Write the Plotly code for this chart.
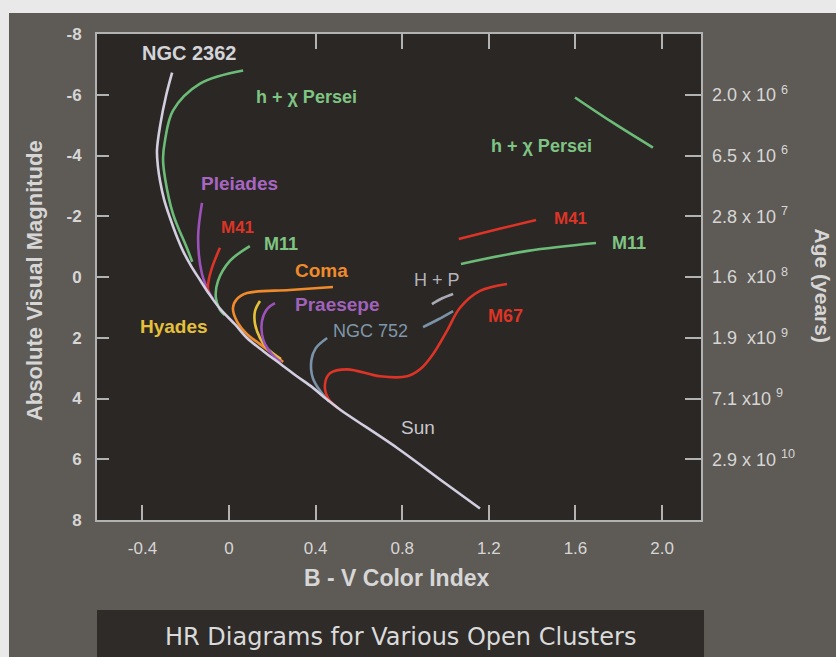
import plotly.graph_objects as go

# ---- cluster sequences (B-V colour index, absolute visual magnitude) ----
zams_bv = [-0.263, -0.290, -0.318, -0.333, -0.328, -0.319, -0.300, -0.273, -0.245, -0.213,
           -0.175, -0.134, -0.090, -0.040, 0.030, 0.083, 0.160, 0.235, 0.310, 0.388, 0.450,
           0.512, 0.775, 1.000, 1.159]
zams_mv = [-6.73, -6.00, -5.00, -4.16, -3.60, -3.17, -2.55, -1.95, -1.40, -0.86,
           -0.36, 0.10, 0.58, 1.06, 1.58, 2.01, 2.45, 2.85, 3.25, 3.65, 4.02,
           4.36, 5.62, 6.80, 7.62]

persei_ms_bv = [0.065, -0.134, -0.259, -0.296, -0.305, -0.296, -0.259, -0.195, -0.170]
persei_ms_mv = [-6.80, -6.37, -5.48, -4.49, -3.90, -3.27, -2.08, -0.96, -0.50]
persei_gi_bv = [1.598, 1.773, 1.958]
persei_gi_mv = [-5.91, -5.08, -4.26]

pleiades_bv = [-0.125, -0.143, -0.125, -0.088, -0.074]
pleiades_mv = [-2.44, -1.29, -0.10, 0.56, 0.72]

m41_ms_bv = [-0.042, -0.079, -0.097, -0.097]
m41_ms_mv = [-0.96, -0.30, 0.23, 0.50]
m41_gi_bv = [1.061, 1.240, 1.418]
m41_gi_mv = [-1.25, -1.57, -1.88]

m11_ms_bv = [0.096, 0.004, -0.051, -0.061, -0.042, -0.020]
m11_ms_mv = [-1.02, -0.53, 0.13, 0.69, 1.08, 1.25]
m11_gi_bv = [1.071, 1.380, 1.695]
m11_gi_mv = [-0.43, -0.86, -1.12]

coma_bv = [0.480, 0.280, 0.083, 0.036, 0.018, 0.036, 0.083, 0.143, 0.203, 0.250]
coma_mv = [0.33, 0.43, 0.53, 0.73, 1.02, 1.45, 1.88, 2.21, 2.54, 2.80]

hyades_bv = [0.143, 0.120, 0.120, 0.143, 0.175, 0.240]
hyades_mv = [0.79, 1.12, 1.55, 2.01, 2.34, 2.70]

praesepe_bv = [0.212, 0.175, 0.152, 0.152, 0.166, 0.198, 0.240]
praesepe_mv = [0.86, 1.06, 1.45, 1.88, 2.21, 2.54, 2.80]

ngc752_ms_bv = [0.453, 0.400, 0.380, 0.387, 0.429, 0.462]
ngc752_ms_mv = [2.01, 2.35, 2.75, 3.33, 3.83, 4.10]
ngc752_gi_bv = [0.896, 0.965, 1.035]
ngc752_gi_mv = [1.65, 1.40, 1.12]

hp_gi_bv = [0.937, 0.985, 1.035]
hp_gi_mv = [0.89, 0.70, 0.56]

m67_bv = [1.284, 1.159, 1.066, 1.006, 0.942, 0.882, 0.822, 0.697, 0.545, 0.466, 0.443, 0.457, 0.503]
m67_mv = [0.23, 0.46, 1.02, 1.78, 2.54, 3.04, 3.27, 3.27, 3.04, 3.17, 3.53, 3.99, 4.32]

# ---- axes ----
bv_ticks = [-0.4, 0.0, 0.4, 0.8, 1.2, 1.6, 2.0]
bv_labels = ["-0.4", "0", "0.4", "0.8", "1.2", "1.6", "2.0"]
top_ticks = [0.4, 0.8, 1.2, 1.6, 2.0]
mv_ticks = [-8, -6, -4, -2, 0, 2, 4, 6, 8]
mv_labels = ["<b>-8</b>", "<b>-6</b>", "<b>-4</b>", "<b>-2</b>", "<b>0</b>", "<b>2</b>",
             "<b>4</b>", "<b>6</b>", "<b>8</b>"]
age_ticks = [-6, -4, -2, 0, 2, 4, 6]
age_labels = ["2.0 x 10 <sup>6</sup>", "6.5 x 10 <sup>6</sup>", "2.8 x 10 <sup>7</sup>",
              "1.6  x10 <sup>8</sup>", "1.9  x10 <sup>9</sup>", "7.1 x10 <sup>9</sup>",
              "2.9 x 10 <sup>10</sup>"]

# ---- cluster names ----
label_text = ["NGC 2362", "h + \u03c7 Persei", "h + \u03c7 Persei", "Pleiades", "M41", "M11",
              "Coma", "Praesepe", "Hyades", "NGC 752", "H + P", "M41", "M11", "M67", "Sun"]
label_bv = [-0.181, 0.357, 1.445, 0.046, 0.037, 0.240, 0.429, 0.503, -0.254, 0.655, 0.960,
            1.575, 1.847, 1.279, 0.873]
label_mv = [-7.36, -5.91, -4.32, -3.07, -1.62, -1.09, -0.23, 0.89, 1.62, 1.78, 0.10,
            -1.91, -1.12, 1.29, 4.95]

WHITE = "#d2cee0"
GREEN = "#6cbc78"
RED = "#dc3426"
PURPLE = "#9d52bb"
ORANGE = "#f08b2c"
YELLOW = "#e6c03a"
STEEL = "#7a93a8"
GREY = "#aaaab4"

label_color = ["#d4d4d8", "#7fc483", "#7fc483", "#a866c2", RED, "#7fc483", ORANGE, "#a062bb",
               YELLOW, "#8097aa", "#b4b4bc", RED, "#7fc483", RED, "#c8c8cc"]
label_bold = [True, True, True, True, True, True, True, True, True, False, False, True, True,
              True, False]
label_size = [20, 18, 18, 19, 17, 18, 19, 19, 19, 18, 18, 17, 18, 18, 19]

FONT = "Liberation Sans, Arial, sans-serif"

fig = go.Figure()

curves = [
    (persei_ms_bv, persei_ms_mv, GREEN),
    (persei_gi_bv, persei_gi_mv, GREEN),
    (pleiades_bv, pleiades_mv, PURPLE),
    (m41_ms_bv, m41_ms_mv, RED),
    (m41_gi_bv, m41_gi_mv, RED),
    (m11_ms_bv, m11_ms_mv, GREEN),
    (m11_gi_bv, m11_gi_mv, GREEN),
    (coma_bv, coma_mv, ORANGE),
    (hyades_bv, hyades_mv, YELLOW),
    (praesepe_bv, praesepe_mv, PURPLE),
    (ngc752_ms_bv, ngc752_ms_mv, STEEL),
    (ngc752_gi_bv, ngc752_gi_mv, STEEL),
    (hp_gi_bv, hp_gi_mv, GREY),
    (m67_bv, m67_mv, RED),
    (zams_bv, zams_mv, WHITE),
]
for bv, mv, col in curves:
    fig.add_trace(go.Scatter(x=bv, y=mv, mode="lines",
                             line=dict(color=col, width=2.6, shape="spline", smoothing=1.0),
                             hoverinfo="skip", showlegend=False))

# empty trace that carries the top tick marks and the age axis
fig.add_trace(go.Scatter(x=[], y=[], xaxis="x2", yaxis="y2", mode="lines",
                         hoverinfo="skip", showlegend=False))

for t, bx, my, c, b, s in zip(label_text, label_bv, label_mv, label_color, label_bold, label_size):
    fig.add_annotation(x=bx, y=my, xref="x", yref="y", text=f"<b>{t}</b>" if b else t,
                       showarrow=False, xanchor="center", yanchor="middle",
                       font=dict(family=FONT, size=s, color=c))

XR = [-0.61, 2.18]
YR = [8, -8]
AX = "#b2b2b2"
TXT = "#d6d6d6"

fig.update_layout(
    width=836, height=657,
    margin=dict(l=97, r=135, t=34, b=137, autoexpand=False),
    paper_bgcolor="#e9e9e9",
    plot_bgcolor="#2a2725",
    xaxis=dict(range=XR, tickvals=bv_ticks, ticktext=bv_labels, ticks="inside", ticklen=15,
               tickwidth=2, tickcolor=AX, showline=True, linecolor=AX, linewidth=2, mirror=True,
               showgrid=False, zeroline=False, ticklabelstandoff=12,
               tickfont=dict(family=FONT, size=17, color=TXT)),
    yaxis=dict(range=YR, tickvals=mv_ticks, ticktext=mv_labels, ticks="inside", ticklen=12,
               tickwidth=2, tickcolor=AX, showline=True, linecolor=AX, linewidth=2, mirror=True,
               showgrid=False, zeroline=False, ticklabelstandoff=10,
               tickfont=dict(family=FONT, size=17, color=TXT)),
    xaxis2=dict(range=XR, overlaying="x", side="top", tickvals=top_ticks, ticks="inside",
                ticklen=15, tickwidth=2, tickcolor=AX, showticklabels=False, showline=False,
                showgrid=False, zeroline=False),
    yaxis2=dict(range=YR, overlaying="y", side="right", tickvals=age_ticks, ticktext=age_labels,
                ticks="inside", ticklen=16, tickwidth=2, tickcolor=AX, showline=False,
                showgrid=False, zeroline=False, ticklabelstandoff=10,
                tickfont=dict(family=FONT, size=18, color=TXT)),
    shapes=[
        dict(type="rect", xref="paper", yref="paper", x0=-0.1457, x1=1.3, y0=-0.3, y1=1.0432,
             fillcolor="#5e5a55", line=dict(width=0), layer="below"),
        dict(type="rect", xref="paper", yref="paper", x0=0, x1=1, y0=0, y1=1,
             fillcolor="#2a2725", line=dict(width=0), layer="below"),
        dict(type="rect", xref="paper", yref="paper", x0=0, x1=1.005, y0=-0.3, y1=-0.185,
             fillcolor="#2e2b29", line=dict(width=0), layer="below"),
    ],
    annotations=list(fig.layout.annotations) + [
        dict(x=-0.1026, y=0.4918, xref="paper", yref="paper", text="<b>Absolute Visual Magnitude</b>",
             textangle=-90, showarrow=False, xanchor="center", yanchor="middle",
             font=dict(family=FONT, size=22, color=TXT)),
        dict(x=0.497, y=-0.1193, xref="paper", yref="paper", text="<b>B - V Color Index</b>",
             showarrow=False, xanchor="center", yanchor="middle",
             font=dict(family=FONT, size=23, color=TXT)),
        dict(x=1.201, y=0.4815, xref="paper", yref="paper", text="<b>Age (years)</b>",
             textangle=90, showarrow=False, xanchor="center", yanchor="middle",
             font=dict(family=FONT, size=21, color=TXT)),
        dict(x=0.5017, y=-0.2407, xref="paper", yref="paper",
             text="HR Diagrams for Various Open Clusters",
             showarrow=False, xanchor="center", yanchor="middle",
             font=dict(family="DejaVu Sans, sans-serif", size=24, color="#dadada")),
    ],
)

fig.write_html("out.html")
